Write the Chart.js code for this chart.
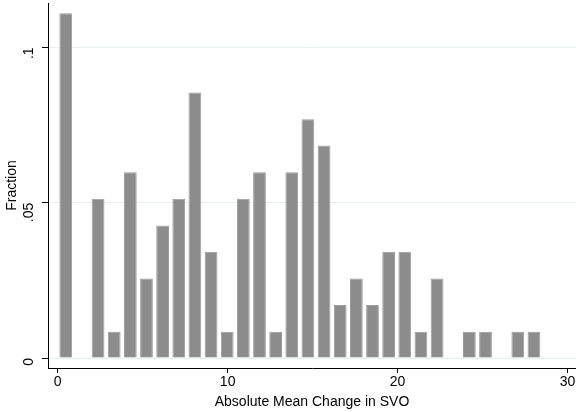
<!DOCTYPE html>
<html>
<head>
<meta charset="utf-8">
<script src="https://cdn.jsdelivr.net/npm/chart.js@4"></script>
<style>
  html, body { margin: 0; padding: 0; background: #fff; }
  #wrap { width: 576px; height: 412px; }
</style>
</head>
<body>
<div id="wrap"><canvas id="chart"></canvas></div>
<script>
// histogram: 30 bins of width 0.95 starting at 0
const binStart = 0
const binWidth = 0.95
const fractions = [
  0.111, 0, 0.0513, 0.0085, 0.0598, 0.0256, 0.0427, 0.0513, 0.0855, 0.0342,
  0.0085, 0.0513, 0.0598, 0.0085, 0.0598, 0.0769, 0.0684, 0.0171, 0.0256, 0.0171,
  0.0342, 0.0342, 0.0085, 0.0256, 0, 0.0085, 0.0085, 0, 0.0085, 0.0085
]
const xTicks = [0, 10, 20, 30]
const yTicks = [0, 0.05, 0.1]
const yTickLabels = ['0', '.05', '.1']

const points = fractions.map((f, i) => ({ x: binStart + binWidth * (i + 0.5), y: f }))

const font = { family: 'Liberation Sans, Arial, sans-serif', size: 14 }

new Chart(document.getElementById('chart'), {
  type: 'bar',
  data: {
    datasets: [{
      data: points,
      backgroundColor: '#8c8c8c',
      borderColor: '#9c9c9c',
      borderWidth: 1,
      barPercentage: 0.79,
      categoryPercentage: 1
    }]
  },
  options: {
    responsive: true,
    maintainAspectRatio: false,
    animation: false,
    layout: { padding: { top: 3, right: 0, left: 0, bottom: 0 } },
    plugins: { legend: { display: false }, tooltip: { enabled: false } },
    scales: {
      x: {
        type: 'linear',
        offset: false,
        min: -0.57,
        max: 30.5,
        afterBuildTicks: scale => { scale.ticks = xTicks.map(v => ({ value: v })) },
        afterFit: scale => {
          scale.height = 44
          scale.paddingLeft = 0
          scale.paddingRight = 0
        },
        grid: { offset: false, drawOnChartArea: false, tickColor: '#000', tickLength: 5 },
        border: { color: '#000', width: 1 },
        ticks: { color: '#000', font, padding: 1, maxRotation: 0, callback: v => String(v) },
        title: {
          display: true,
          text: 'Absolute Mean Change in SVO',
          color: '#000',
          font,
          padding: { top: 0, bottom: 1 }
        }
      },
      y: {
        min: -0.0032,
        max: 0.1143,
        afterBuildTicks: scale => { scale.ticks = yTicks.map(v => ({ value: v })) },
        afterFit: scale => {
          scale.width = 48
          scale.paddingTop = 0
          scale.paddingBottom = 0
        },
        grid: { color: '#e8eff1', tickColor: '#000', tickLength: 6 },
        border: { color: '#000', width: 1 },
        ticks: {
          color: '#000',
          font,
          padding: 13,
          minRotation: 90,
          maxRotation: 90,
          callback: (v, i) => yTickLabels[i]
        },
        title: {
          display: true,
          text: 'Fraction',
          color: '#000',
          font,
          padding: { top: 4, bottom: 0 }
        }
      }
    }
  }
})
</script>
</body>
</html>
